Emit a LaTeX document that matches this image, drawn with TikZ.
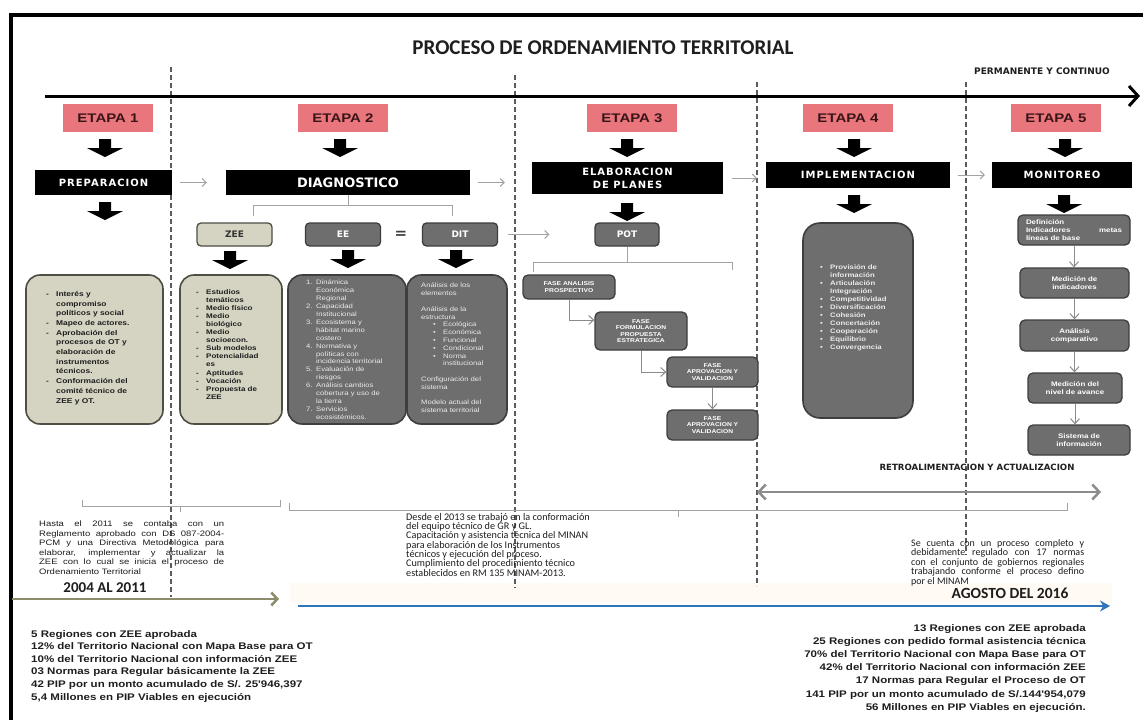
\documentclass[tikz,border=0pt]{standalone}
\usepackage{fontspec}
\setmainfont{Liberation Sans}
\newfontfamily\arw{Liberation Sans}[FakeStretch=1.2]
\newfontfamily\dvf{DejaVu Sans}
\newfontfamily\dvsp{DejaVu Sans}[LetterSpace=10]
\newfontfamily\calf{Carlito}
\usetikzlibrary{arrows.meta,calc}

\definecolor{etapa}{HTML}{E8767C}
\definecolor{etapatxt}{HTML}{3A1518}
\definecolor{beige}{HTML}{D5D3C1}
\definecolor{beigeb}{HTML}{4E4E44}
\definecolor{boxg}{HTML}{6E6E6E}
\definecolor{boxgb}{HTML}{3E3E3E}
\definecolor{connc}{HTML}{A3A3A3}
\definecolor{olivec}{HTML}{8C8B6B}
\definecolor{bluec}{HTML}{2F75B8}
\definecolor{dashc}{HTML}{5A5A5A}
\definecolor{cream}{HTML}{FFFAF4}
\definecolor{ink}{HTML}{1E1E1E}

% list helpers
\newcommand\bdash{\makebox[10pt][l]{-}}
\newcommand\bdot{\makebox[10pt][l]{\textbullet}}
\newcommand\hind{\hspace*{10pt}}
\newcommand\numi[1]{\makebox[10pt][l]{#1.}}

\begin{document}
\begin{tikzpicture}[x=1pt,y=-1pt,
  etapabox/.style={fill=etapa, minimum width=90pt, minimum height=28pt, inner sep=0,
    font=\arw\bfseries\fontsize{12.5}{13}\selectfont, text=etapatxt},
  bar/.style={fill=black, text=white, inner sep=0, align=center,
    font=\dvsp\bfseries\fontsize{10}{13}\selectfont},
  smallbox/.style={rounded corners=4pt, line width=1.3pt, minimum width=75pt,
    minimum height=23pt, inner sep=0, font=\dvf\bfseries\fontsize{9}{9}\selectfont},
  smallbeige/.style={smallbox, fill=beige, draw=beigeb, text=black!80},
  smallgray/.style={smallbox, fill=boxg, draw=boxgb, text=white},
  bigbeige/.style={rounded corners=14pt, fill=beige, draw=beigeb, line width=1.6pt, inner sep=0},
  biggray/.style={rounded corners=14pt, fill=boxg, draw=boxgb, line width=1.6pt, inner sep=0},
  fase/.style={rounded corners=5pt, fill=boxg, draw=boxgb, line width=1.3pt, inner sep=0,
    text=white, align=center, font=\arw\bfseries\fontsize{5.6}{6.6}\selectfont},
  mon/.style={rounded corners=5pt, fill=boxg, draw=boxgb, line width=1.3pt, inner sep=0,
    text=white, align=center, font=\arw\bfseries\fontsize{6.6}{8}\selectfont},
  btext/.style={anchor=north west, inner sep=0, align=left},
  conn/.style={draw=connc, line width=1pt, -{Straight Barb[length=4pt,width=8pt]}},
  flowarr/.style={draw=connc!85!black, line width=1pt, -{Straight Barb[length=5pt,width=9pt]}},
  dashl/.style={draw=dashc, line width=1.3pt, dash pattern=on 5pt off 3pt},
  brk/.style={draw=connc, line width=1pt},
  blkdown/.pic={\fill[black] (-6,0) -- (6,0) -- (6,9) -- (18,9) -- (0,18) -- (-18,9) -- (-6,9) -- cycle;}
]
\useasboundingbox (0,0) rectangle (1143,720);
\fill[white] (0,0) rectangle (1143,720);

% outer frame
\draw[line width=4pt] (10.5,726) -- (10.5,15) -- (1150,15);

% light band behind the lower timeline
\fill[cream] (290,583) rectangle (1112,603);

% stage separators
\coordinate (d1t) at (171,67);  \coordinate (d1b) at (171,597);
\coordinate (d2t) at (515,75);  \coordinate (d2b) at (515,588);
\coordinate (d3t) at (757,82);  \coordinate (d3b) at (757,586);
\coordinate (d4t) at (966,82);  \coordinate (d4b) at (966,555);
\draw[dashl] (d1t) -- (d1b);
\draw[dashl] (d2t) -- (d2b);
\draw[dashl] (d3t) -- (d3b);
\draw[dashl] (d4t) -- (d4b);

% title and main timeline
\node[font=\calf\bfseries\fontsize{21}{21}\selectfont, text=ink] (title) at (603,48)
  {PROCESO DE ORDENAMIENTO TERRITORIAL};
\node[font=\dvf\bfseries\fontsize{9}{9}\selectfont, text=ink] (perm) at (1042,71)
  {PERMANENTE Y CONTINUO};
\coordinate (tlA) at (45,96);
\coordinate (tlB) at (1140,96);
\draw[line width=3pt, -{Straight Barb[length=9pt,width=20pt]}] (tlA) -- (tlB);

% stages
\node[etapabox] (e1) at (108,118) {ETAPA 1};
\node[etapabox] (e2) at (343,118) {ETAPA 2};
\node[etapabox] (e3) at (632,118) {ETAPA 3};
\node[etapabox] (e4) at (848,118) {ETAPA 4};
\node[etapabox] (e5) at (1056,118) {ETAPA 5};
\pic (a1) at (105,139) {blkdown};
\pic (a2) at (340,139) {blkdown};
\pic (a3) at (627,139) {blkdown};
\pic (a4) at (854,139) {blkdown};
\pic (a5) at (1065,139) {blkdown};

% phase bars
\node[bar, minimum width=137pt, minimum height=25pt] (prep) at (103.5,182.5) {PREPARACION};
\node[bar, minimum width=244pt, minimum height=25pt,
  font=\dvf\bfseries\fontsize{13}{13}\selectfont] (diag) at (348,182.5) {DIAGNOSTICO};
\node[bar, minimum width=191pt, minimum height=32pt] (elab) at (627.5,178) {ELABORACION\\DE PLANES};
\node[bar, minimum width=184pt, minimum height=26pt] (impl) at (858,175) {IMPLEMENTACION};
\node[bar, minimum width=140pt, minimum height=26pt] (moni) at (1062,175) {MONITOREO};
\draw[conn, shorten <=8pt, shorten >=19pt] (prep.east) -- (prep.east -| diag.west);
\draw[conn, shorten <=8pt, shorten >=27pt] (diag.east) -- (diag.east -| elab.west);
\draw[conn, shorten <=9pt, shorten >=9pt] (elab.east) -- (elab.east -| impl.west);
\draw[conn, shorten <=8pt, shorten >=7pt] (impl.east) -- (impl.east -| moni.west);

\pic (a6) at (105,202) {blkdown};
\pic (a7) at (627,203) {blkdown};
\pic (a8) at (854,195) {blkdown};
\pic (a9) at (1064,195) {blkdown};

% diagnostic bracket
\coordinate (bkL) at (253,216);
\coordinate (bkR) at (452,216);
\coordinate (bkM) at (348,205);
\draw[brk] (bkL) -- (253,205) -- (452,205) -- (bkR);
\draw[brk] (diag.south) -- (bkM);

% ZEE / EE / DIT / POT
\node[smallbeige] (zee) at (234.5,234.5) {ZEE};
\node[smallgray] (ee) at (343,234.5) {EE};
\node[font=\dvf\bfseries\fontsize{15}{15}\selectfont, text=black!75] (eq) at (401,235) {=};
\node[smallgray] (dit) at (460,234.5) {DIT};
\node[smallgray, minimum width=64pt] (pot) at (627,234.5) {POT};
\draw[conn, shorten <=10pt, shorten >=45pt] (dit.east) -- (pot.west);
\pic (a10) at (230,251) {blkdown};
\pic (a11) at (348,250) {blkdown};
\pic (a12) at (456,250) {blkdown};

% content boxes
\node[bigbeige, minimum width=137pt, minimum height=149pt] (b1) at (94.5,349.5) {};
\node[bigbeige, minimum width=102pt, minimum height=149pt] (bz) at (231,349.5) {};
\node[biggray, minimum width=118pt, minimum height=149pt] (be) at (347,349.5) {};
\node[biggray, minimum width=100pt, minimum height=149pt] (bd) at (457,349.5) {};

\node[btext, text=ink, font=\arw\bfseries\fontsize{7}{9.7}\selectfont] (b1t) at (46,291)
 {\bdash Interés y\\\hind compromiso\\\hind políticos y social\\\bdash Mapeo de actores.\\
  \bdash Aprobación del\\\hind procesos de OT y\\\hind elaboración de\\\hind instrumentos\\
  \hind técnicos.\\\bdash Conformación del\\\hind comité técnico de\\\hind ZEE y OT.};

\node[btext, text=ink, font=\arw\bfseries\fontsize{6.7}{8.1}\selectfont] (bzt) at (196,289)
 {\bdash Estudios\\\hind temáticos\\\bdash Medio físico\\\bdash Medio\\\hind biológico\\
  \bdash Medio\\\hind socioecon.\\\bdash Sub modelos\\\bdash Potencialidad\\\hind es\\
  \bdash Aptitudes\\\bdash Vocación\\\bdash Propuesta de\\\hind ZEE};

\node[btext, text=white!92!black, font=\arw\fontsize{6.4}{7.9}\selectfont] (bet) at (306,280)
 {\numi1Dinámica\\\hind Económica\\\hind Regional\\\numi2Capacidad\\\hind Institucional\\
  \numi3Ecosistema y\\\hind hábitat marino\\\hind costero\\\numi4Normativa y\\\hind políticas con\\
  \hind incidencia territorial\\\numi5Evaluación de\\\hind riesgos\\\numi6Análisis cambios\\
  \hind cobertura y uso de\\\hind la tierra\\\numi7Servicios\\\hind ecosistémicos.};

\node[btext, text=white!92!black, font=\arw\fontsize{6.4}{7.8}\selectfont] (bdt) at (421,283)
 {Análisis de los\\elementos\\[7.8pt]Análisis de la\\estructura\\
  \hspace*{12pt}\bdot Ecológica\\\hspace*{12pt}\bdot Económica\\\hspace*{12pt}\bdot Funcional\\
  \hspace*{12pt}\bdot Condicional\\\hspace*{12pt}\bdot Norma\\\hspace*{22pt}institucional\\[7.8pt]
  Configuración del\\sistema\\[7.8pt]Modelo actual del\\sistema territorial};

% plan phases
\coordinate (pbM) at (627,262);
\draw[brk] (pot.south) -- (pbM);
\draw[brk] (533,272) -- (533,262) -- (732,262) -- (732,270);
\node[fase, minimum width=92pt, minimum height=24pt] (f1) at (569,287) {FASE ANALISIS\\PROSPECTIVO};
\node[fase, minimum width=92pt, minimum height=38pt] (f2) at (641,331) {FASE\\FORMULACION\\PROPUESTA\\ESTRATEGICA};
\node[fase, minimum width=91pt, minimum height=30pt] (f3) at (712.5,372) {FASE\\APROVACION Y\\VALIDACION};
\node[fase, minimum width=91pt, minimum height=30pt] (f4) at (712.5,425) {FASE\\APROVACION Y\\VALIDACION};
\draw[flowarr] (f1.south) |- ([yshift=11pt]f2.west);
\draw[flowarr] (f2.south) |- (f3.west);
\draw[flowarr] (f3.south) -- (f4.north);

% implementation
\node[biggray, rounded corners=17pt, minimum width=110pt, minimum height=195pt] (ib) at (858,320.5) {};
\node[btext, text=white!92!black, font=\arw\bfseries\fontsize{6.5}{8}\selectfont] (ibt) at (820,265)
 {\bdot Provisión de\\\hind información\\\bdot Articulación\\\hind Integración\\\bdot Competitividad\\
  \bdot Diversificación\\\bdot Cohesión\\\bdot Concertación\\\bdot Cooperación\\\bdot Equilibrio\\
  \bdot Convergencia};

% monitoring
\node[mon, minimum width=112pt, minimum height=30pt, align=left, text width=96pt] (m1) at (1074,230)
 {Definición\\Indicadores\hfill metas\\líneas de base};
\node[mon, minimum width=109pt, minimum height=30pt] (m2) at (1074.5,283) {Medición de\\indicadores};
\node[mon, minimum width=109pt, minimum height=31pt] (m3) at (1074.5,335.5) {Análisis\\comparativo};
\node[mon, minimum width=94pt, minimum height=30pt] (m4) at (1075,388) {Medición del\\nivel de avance};
\node[mon, minimum width=102pt, minimum height=30pt] (m5) at (1079,440) {Sistema de\\información};
\draw[flowarr] (m1.south) -- (m1.south |- m2.north);
\draw[flowarr] (m2.south) -- (m2.south |- m3.north);
\draw[flowarr] (m3.south) -- (m3.south |- m4.north);
\draw[flowarr] (m4.south) -- (m4.south |- m5.north);

% feedback
\node[font=\dvf\bfseries\fontsize{8.6}{9}\selectfont, text=ink] (retro) at (977,467)
  {RETROALIMENTACION Y ACTUALIZACION};
\coordinate (ra) at (757,492);
\coordinate (rb) at (1101,492);
\draw[draw=black!45, line width=2.5pt,
  {Straight Barb[length=7pt,width=15pt]}-{Straight Barb[length=7pt,width=15pt]}] (ra) -- (rb);

% period brackets
\draw[brk] (82,500) -- (82,506) -- (280,506) -- (280,500);
\draw[brk] (180,506) -- (180,512);
\draw[brk] (289,503) -- (289,510) -- (1067,510) -- (1067,503);
\draw[brk] (678,510) -- (678,517);

% period notes
\node[btext, text=ink, font=\arw\fontsize{7.9}{9.5}\selectfont] (nA) at (39,521)
 {\makebox[185pt][s]{Hasta el 2011 se contaba con un}\\
  \makebox[185pt][s]{Reglamento aprobado con DS 087-2004-}\\
  \makebox[185pt][s]{PCM y una Directiva Metodológica para}\\
  \makebox[185pt][s]{elaborar, implementar y actualizar la}\\
  \makebox[185pt][s]{ZEE con lo cual se inicia el proceso de}\\
  Ordenamiento Territorial};
\node[btext, text=ink, font=\calf\fontsize{10.2}{9.3}\selectfont] (nB) at (406,513)
 {Desde el 2013 se trabajó en la conformación\\
  del equipo técnico de GR y GL.\\
  Capacitación y asistencia técnica del MINAN\\
  para elaboración de los Instrumentos\\
  técnicos y ejecución del proceso.\\
  Cumplimiento del procedimiento técnico\\
  establecidos en RM 135 MINAM-2013.};
\node[btext, text=ink, font=\calf\fontsize{10}{9.5}\selectfont] (nC) at (911,539)
 {\makebox[173pt][s]{Se cuenta con un proceso completo y}\\
  \makebox[173pt][s]{debidamente regulado con 17 normas}\\
  \makebox[173pt][s]{con el conjunto de gobiernos regionales}\\
  \makebox[173pt][s]{trabajando conforme el proceso defino}\\
  por el MINAM};

% lower timelines
\node[font=\calf\bfseries\fontsize{15}{15}\selectfont, text=ink] (y1) at (105,588) {2004 AL 2011};
\node[font=\calf\bfseries\fontsize{15.5}{15.5}\selectfont, text=ink] (y2) at (1010,593) {AGOSTO DEL 2016};
\coordinate (oa) at (12,599);
\coordinate (ob) at (279,599);
\draw[draw=olivec, line width=2.5pt, -{Straight Barb[length=6pt,width=13pt]}] (oa) -- (ob);
\coordinate (ba) at (298,606);
\coordinate (bb) at (1110,606);
\draw[draw=bluec, line width=2.5pt, -{Stealth[length=10pt,width=11pt]}] (ba) -- (bb);

% figures
\node[btext, text=ink, font=\arw\bfseries\fontsize{9.6}{12.6}\selectfont] (ll) at (31,630)
 {5 Regiones con ZEE aprobada\\
  12\% del Territorio Nacional con Mapa Base para OT\\
  10\% del Territorio Nacional con información ZEE\\
  03 Normas para Regular básicamente la ZEE\\
  42 PIP por un monto acumulado de S/. 25'946,397\\
  5,4 Millones en PIP Viables en ejecución};
\node[anchor=north east, inner sep=0, align=right, text=ink, font=\arw\bfseries\fontsize{9.6}{13.2}\selectfont] (rl) at (1086,624)
 {13 Regiones con ZEE aprobada\\
  25 Regiones con pedido formal asistencia técnica\\
  70\% del Territorio Nacional con Mapa Base para OT\\
  42\% del Territorio Nacional con información ZEE\\
  17 Normas para Regular el Proceso de OT\\
  141 PIP por un monto acumulado de S/.144'954,079\\
  56 Millones en PIP Viables en ejecución.};
\end{tikzpicture}
\end{document}
